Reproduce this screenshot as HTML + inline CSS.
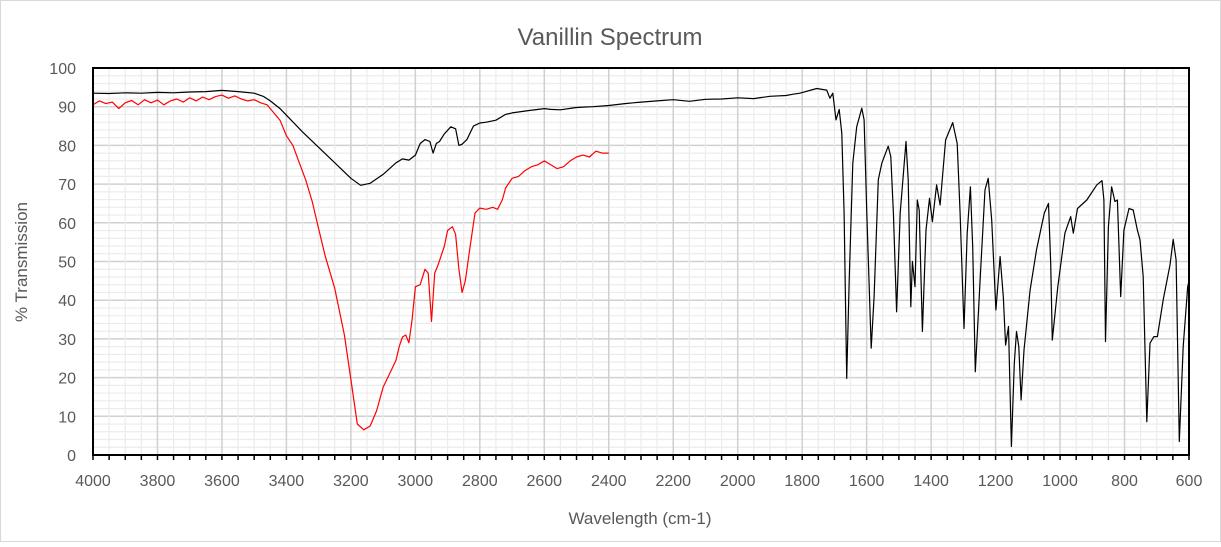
<!DOCTYPE html>
<html><head><meta charset="utf-8"><style>
body{margin:0;background:#fff;}
svg text{font-family:"Liberation Sans",Arial,sans-serif;fill:#595959;}
</style></head><body>
<svg id="chart" width="1221" height="542" xmlns="http://www.w3.org/2000/svg">
<rect x="0.5" y="0.5" width="1220" height="541" fill="#fff" stroke="#d9d9d9"/>
<text x="610" y="45" font-size="24" text-anchor="middle">Vanillin Spectrum</text>
<g id="grid"></g>
<g id="series"></g>
<g id="axes"></g>
<text x="640" y="524" font-size="17" text-anchor="middle">Wavelength (cm-1)</text>
<text transform="translate(27,262) rotate(-90)" font-size="17" text-anchor="middle">% Transmission</text>
</svg>
<script>
const xTicks=[4000,3800,3600,3400,3200,3000,2800,2600,2400,2200,2000,1800,1600,1400,1200,1000,800,600];
const yTicks=[0,10,20,30,40,50,60,70,80,90,100];
const blackWn=[4000,3950,3900,3850,3800,3750,3700,3650,3600,3550,3500,3470,3450,3420,3400,3350,3300,3250,3200,3170,3140,3100,3060,3040,3020,3000,2985,2970,2955,2945,2935,2925,2910,2890,2875,2865,2855,2840,2820,2800,2780,2750,2720,2700,2650,2600,2580,2550,2500,2450,2400,2350,2300,2250,2200,2150,2100,2050,2000,1950,1900,1850,1830,1807,1755,1724,1714,1705,1695,1685,1677,1670,1662,1654,1643,1631,1615,1608,1600,1586,1577,1564,1553,1533,1525,1517,1507,1496,1478,1471,1463,1458,1450,1443,1437,1427,1416,1405,1396,1383,1372,1355,1333,1319,1310,1298,1288,1278,1271,1263,1248,1233,1223,1212,1199,1186,1176,1169,1160,1151,1142,1135,1128,1121,1112,1093,1073,1049,1036,1029,1024,1007,985,967,959,946,917,886,870,864,859,850,840,830,822,812,802,786,773,760,752,742,731,721,709,698,680,659,649,640,630,618,604,600];
const blackT=[93.5,93.4,93.6,93.5,93.7,93.6,93.8,93.9,94.2,93.9,93.5,92.6,91.5,89.5,87.8,83.5,79.5,75.5,71.5,69.7,70.2,72.5,75.5,76.5,76.2,77.5,80.5,81.5,81,78,80.5,81,83,84.8,84.3,80,80.3,81.5,85,85.8,86,86.5,88,88.4,89,89.5,89.3,89.2,89.8,90,90.3,90.8,91.2,91.5,91.8,91.4,91.9,92,92.3,92.1,92.7,92.9,93.2,93.5,94.7,94.3,92.2,93.5,86.6,89.3,83.1,62.5,19.8,45.2,75.4,84.8,89.6,86.6,64.2,27.6,40.9,71.1,75.4,79.8,77.1,62.5,37,62.5,81,71.1,38.3,50,43.5,65.9,63.3,31.9,58.1,66.3,60.3,69.8,64.6,81.4,85.9,80.5,62.5,32.7,57.3,69.3,53.8,21.5,45.2,68.5,71.5,60.7,37.5,51.3,40.9,28.4,33.2,2.2,23.7,31.9,28,14.2,27.1,42.6,53,62.5,65,49.5,29.7,43.5,57.3,61.6,57.3,63.7,65.9,69.8,70.9,65.9,29.3,59,69.3,65.5,65.9,40.9,58.1,63.7,63.3,58.1,55.6,46.1,8.6,28.9,30.6,30.6,40.1,49.1,55.7,50.4,3.5,28,43.5,45];
const redWn=[4000,3980,3960,3940,3920,3900,3880,3860,3840,3820,3800,3780,3760,3740,3720,3700,3680,3660,3640,3620,3600,3580,3560,3540,3520,3500,3480,3460,3440,3420,3400,3380,3360,3340,3320,3300,3280,3250,3220,3200,3180,3160,3140,3120,3100,3080,3060,3050,3040,3030,3020,3010,3000,2985,2970,2960,2950,2940,2930,2910,2900,2885,2875,2865,2855,2845,2830,2815,2800,2780,2760,2745,2730,2720,2700,2680,2660,2640,2620,2600,2580,2560,2540,2520,2500,2480,2460,2440,2420,2400];
const redT=[90.5,91.5,90.8,91.2,89.5,91,91.6,90.5,91.8,91,91.7,90.5,91.5,92,91.2,92.3,91.5,92.5,91.8,92.6,93,92.2,92.8,92,91.5,91.8,91,90.5,88.5,86.5,82.5,80,75.5,71,65.5,58.5,51.5,43,31,19.5,8,6.5,7.5,11.5,17.5,21,24.5,28,30.5,31,29,35,43.5,44,48,47,34.5,47,49,54,58,59,57,48,42,45,54,62.5,63.8,63.5,64,63.5,66,69,71.5,72,73.5,74.5,75,76,75,74,74.5,76,77,77.5,77,78.5,78,78];
const X0=93,X1=1189,Y0=455,Y1=68;
const xs=w=>X0+(4000-w)/3400*(X1-X0);
const ys=t=>Y0-t/100*(Y0-Y1);
const NS='http://www.w3.org/2000/svg';
function mk(tag,attrs,parent){const e=document.createElementNS(NS,tag);for(const k in attrs)e.setAttribute(k,attrs[k]);parent.appendChild(e);return e;}
const grid=document.getElementById('grid'),axes=document.getElementById('axes'),series=document.getElementById('series');
for(let t=0;t<=100;t+=2){const l=mk('line',{x1:X0,x2:X1,y1:ys(t),y2:ys(t),stroke:t%10===0?'#d0d0d0':'#ececec','stroke-width':t%10===0?1.5:1.2},grid);

}
for(let w=600;w<=4000;w+=50){const l=mk('line',{x1:xs(w),x2:xs(w),y1:Y1,y2:Y0,stroke:w%200===0?'#d0d0d0':'#ececec','stroke-width':w%200===0?1.5:1.2},grid);

}
function path(wn,t,color,name){let d='';for(let i=0;i<wn.length;i++)d+=(i?'L':'M')+xs(wn[i]).toFixed(1)+','+ys(t[i]).toFixed(1);
const p=mk('path',{d:d,fill:'none',stroke:color,'stroke-width':1.2,'stroke-linejoin':'round'},series);

}
path(blackWn,blackT,'#000','series-black');
path(redWn,redT,'#ff0000','series-red');
const fr=mk('rect',{x:X0,y:Y1,width:X1-X0,height:Y0-Y1,fill:'none',stroke:'#000','stroke-width':2},axes);


for(let w=600;w<=4000;w+=50){const l=mk('line',{x1:xs(w),x2:xs(w),y1:Y0,y2:Y0+5,stroke:'#000','stroke-width':1.5},axes);

}
xTicks.forEach(w=>{const t=mk('text',{x:xs(w),y:486,'font-size':16,'text-anchor':'middle'},axes);t.textContent=w;

});
yTicks.forEach(v=>{const t=mk('text',{x:76,y:ys(v)+6,'font-size':16,'text-anchor':'end'},axes);t.textContent=v;

});
</script>
</body></html>
